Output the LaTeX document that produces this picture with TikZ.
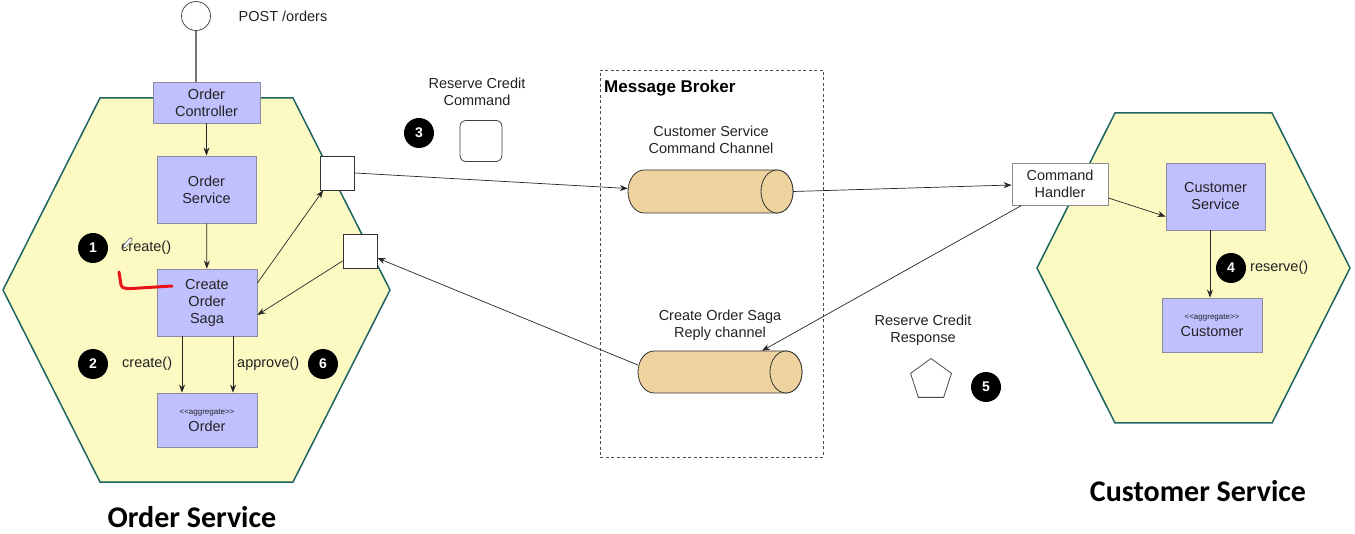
\documentclass[tikz,border=0pt]{standalone}
\usepackage{fontspec}
\setmainfont{Liberation Sans}
\newfontfamily\titlefont{Carlito}
\usetikzlibrary{arrows.meta,shapes.geometric}
\definecolor{hexfill}{HTML}{FCFAC2}
\definecolor{hexline}{HTML}{1E6464}
\definecolor{boxfill}{HTML}{C0C0FF}
\definecolor{boxline}{HTML}{8C8CA0}
\definecolor{cylfill}{HTML}{EFD39F}
\definecolor{txt}{HTML}{222222}
\definecolor{pen}{HTML}{E8141A}
\newcommand{\aggtag}{{\fontsize{8}{9}\selectfont <\kern0pt<aggregate>\kern0pt>}}
\begin{document}
\begin{tikzpicture}[x=1pt,y=-1pt,
  font=\fontsize{14.5}{17}\selectfont, text=txt,
  comp/.style={draw=boxline, fill=boxfill, line width=0.8pt, align=center, inner sep=0pt},
  port/.style={draw=black!80, fill=white, line width=0.8pt, minimum size=34pt, inner sep=0pt},
  num/.style={circle, fill=black, text=white, font=\bfseries\fontsize{14}{14}\selectfont, minimum size=30pt, inner sep=0pt},
  flow/.style={draw=black!85, line width=0.7pt, -{Stealth[length=8pt,width=6pt]}},
  hex/.style={draw=hexline, fill=hexfill, line width=1.5pt, line join=miter},
  lbl/.style={align=center, inner sep=0pt},
  cylbody/.style={draw=black!80, fill=cylfill, line width=0.8pt},
  title/.style={font=\titlefont\bfseries\fontsize{30}{32}\selectfont, text=black, inner sep=0pt},
]
\useasboundingbox (0,0) rectangle (1355,534);

% service hexagons
\draw[hex] (100,98) -- (293,98) -- (390,290) -- (293,482) -- (100,482) -- (3,290) -- cycle;
\draw[hex] (1115,113) -- (1272,113) -- (1350,268) -- (1272,423) -- (1115,423) -- (1037,268) -- cycle;

% message broker
\node[draw=black!70, dashed, dash pattern=on 3pt off 2.5pt, line width=0.9pt,
      minimum width=223pt, minimum height=387pt, inner sep=0pt] (broker) at (711.5,263.5) {};
\node[anchor=west, inner sep=0pt, font=\bfseries\fontsize{17}{19}\selectfont, text=black] (mb) at (604,88) {Message Broker};

% order service components
\node[circle, draw=black!70, fill=white, minimum size=29pt, inner sep=0pt, line width=0.8pt] (ep) at (196,16) {};
\node[lbl] (post) at (283,16) {POST /orders};
\node[comp, minimum width=107pt, minimum height=41pt] (ctrl) at (206.5,102.5) {Order\\Controller};
\node[comp, minimum width=99pt, minimum height=67pt] (osvc) at (206.5,189.5) {Order\\Service};
\node[comp, minimum width=100pt, minimum height=67pt] (saga) at (207,302.5) {Create\\Order\\Saga};
\node[comp, minimum width=100pt, minimum height=54pt] (order) at (207,420) {\aggtag\\Order};
\node[port] (p1) at (337.5,173) {};
\node[port] (p2) at (360,251) {};

\node[num] (n1) at (93,248) {1};
\node[lbl, anchor=west] (c1) at (121,248) {create()};
\node[num] (n2) at (93,364) {2};
\node[lbl, anchor=west] (c2) at (122,364) {create()};
\node[lbl, anchor=west] (appr) at (237,364) {approve()};
\node[num] (n6) at (323,364) {6};

% pencil cursor and hand-drawn red mark
\draw[black!55, line width=3.6pt, line cap=round] (124,247) -- (131,239);
\draw[white, line width=2.2pt, line cap=round] (124.6,246.4) -- (130.6,239.6);
\draw[pen, line width=3pt, line cap=round, line join=round] (119,272) -- (121,285) .. controls (122,289) and (126,289) .. (140,288) -- (172,286);

% command message
\node[lbl] (rcc) at (477,92) {Reserve Credit\\Command};
\node[num] (n3) at (419,133) {3};
\node[draw=black!75, fill=white, rounded corners=6pt, line width=0.8pt, minimum width=42pt, minimum height=41pt, inner sep=0pt] (cmd) at (481,141) {};

% channels
\node[lbl] (cscc) at (711,140) {Customer Service\\Command Channel};
\node[lbl] (cosr) at (720,325) {Create Order Saga\\Reply channel};
\node[minimum width=165pt, minimum height=43pt, inner sep=0pt] (cyl1) at (710.5,191.5) {};
\node[minimum width=164pt, minimum height=42pt, inner sep=0pt] (cyl2) at (720,372) {};
\begin{scope}[shift={(cyl1.center)}, x=1pt, y=1pt]
  \draw[cylbody] (66.5,21.5) -- (-66.5,21.5) arc[start angle=90, end angle=270, x radius=16, y radius=21.5]
    -- (66.5,-21.5) arc[start angle=-90, end angle=90, x radius=16, y radius=21.5] -- cycle;
  \draw[cylbody] (66.5,0) ellipse[x radius=16, y radius=21.5];
\end{scope}
\begin{scope}[shift={(cyl2.center)}, x=1pt, y=1pt]
  \draw[cylbody] (66,21) -- (-66,21) arc[start angle=90, end angle=270, x radius=16, y radius=21]
    -- (66,-21) arc[start angle=-90, end angle=90, x radius=16, y radius=21] -- cycle;
  \draw[cylbody] (66,0) ellipse[x radius=16, y radius=21];
\end{scope}

% reply message
\node[lbl] (rcr) at (923,330.5) {Reserve Credit\\Response};
\node[regular polygon, regular polygon sides=5, draw=black!70, fill=white, line width=0.8pt, minimum size=43pt, inner sep=0pt] (resp) at (931,380) {};
\node[num] (n5) at (986,387) {5};

% customer service components
\node[comp, fill=white, draw=black!45, minimum width=96pt, minimum height=42pt] (ch) at (1060,184) {Command\\Handler};
\node[comp, minimum width=99pt, minimum height=67pt] (cs) at (1215.5,196.5) {Customer\\Service};
\node[comp, minimum width=100pt, minimum height=54pt] (cust) at (1212,325) {\aggtag\\Customer};
\node[num] (n4) at (1231,268) {4};
\node[lbl, anchor=west] (rsv) at (1250,268) {reserve()};

% titles
\node[title] (t1) at (192,517) {Order Service};
\node[title] (t2) at (1198,491) {Customer Service};

% connectors
\draw[black!55, line width=1.2pt] (ep.south) -- (ep.south |- ctrl.north);
\draw[flow] (ctrl) -- (osvc);
\draw[flow] (osvc) -- (saga);
\draw[flow] ([xshift=-25pt]saga.south) -- ([xshift=-25pt]saga.south |- order.north);
\draw[flow] ([xshift=26pt]saga.south) -- ([xshift=26pt]saga.south |- order.north);
\draw[flow] ([yshift=19.5pt]saga.east) -- ([xshift=3pt]p1.south west);
\draw[flow] ([yshift=-10pt]p2.west) -- ([yshift=-12.5pt]saga.east);
\draw[flow] (p1.east) -- ([yshift=3pt]cyl1.west);
\draw[flow] ([yshift=7pt]cyl2.west) -- ([yshift=-7pt]p2.east);
\draw[flow] (cyl1.east) -- ([yshift=-1pt]ch.west);
\draw[flow] ([xshift=10pt]ch.south west) -- ([xshift=42pt]cyl2.north);
\draw[flow] ([yshift=-14pt]ch.east) -- ([yshift=-20pt]cs.west);
\draw[flow] ([xshift=-5.5pt]cs.south) -- ([xshift=-5.5pt]cs.south |- cust.north);
\end{tikzpicture}
\end{document}
